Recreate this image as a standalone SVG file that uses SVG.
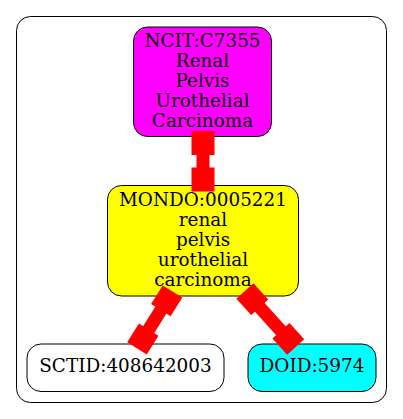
<svg xmlns="http://www.w3.org/2000/svg" width="403" height="419" viewBox="0 0 403 419">
<style>
.node rect{stroke:#000;stroke-width:1}
.node text{font-family:"DejaVu Serif",serif;font-size:18.4px;text-anchor:middle;fill:#000}
.edge rect{fill:#f00;stroke:none}
.edge line{stroke:#f00;stroke-width:13}
</style>
<rect x="0" y="0" width="403" height="419" fill="#fff"/>
<rect id="cluster" x="16.5" y="16.5" width="370" height="386" rx="14" fill="none" stroke="#000" stroke-width="1"/>
<g id="n_ncit" class="node">
<rect x="133.5" y="27" width="138" height="109.5" rx="14" fill="#ff00ff"/>
<text x="202.5" y="46.7">NCIT:C7355</text>
<text x="202.5" y="66.7">Renal</text>
<text x="202.5" y="86.7">Pelvis</text>
<text x="202.5" y="106.7">Urothelial</text>
<text x="202.5" y="126.7">Carcinoma</text>
</g>
<g id="n_mondo" class="node">
<rect x="107.5" y="185.5" width="191" height="110.5" rx="14" fill="#ffff00"/>
<text x="203" y="206">MONDO:0005221</text>
<text x="203" y="226">renal</text>
<text x="203" y="246">pelvis</text>
<text x="203" y="266">urothelial</text>
<text x="203" y="286">carcinoma</text>
</g>
<g id="n_sctid" class="node">
<rect x="27" y="344" width="197" height="47.5" rx="14" fill="#ffffff"/>
<text x="125.5" y="372.3">SCTID:408642003</text>
</g>
<g id="n_doid" class="node">
<rect x="248" y="344" width="128" height="47.5" rx="14" fill="#00ffff"/>
<text x="312" y="372.3">DOID:5974</text>
</g>
<g id="edges">
<g class="edge" transform="translate(203 143) rotate(0)">
<line x1="0" y1="0" x2="0" y2="36.5"/>
<rect x="-11.5" y="-12" width="23" height="24"/>
<rect x="-11.5" y="24.5" width="23" height="24"/>
</g>
<g class="edge" transform="translate(166.7 300.8) rotate(32)">
<line x1="0" y1="0" x2="0" y2="45"/>
<rect x="-11.5" y="-11" width="23" height="22"/>
<rect x="-11.5" y="34" width="23" height="22"/>
</g>
<g class="edge" transform="translate(252.3 299.2) rotate(-42.2)">
<line x1="0" y1="0" x2="0" y2="53.6"/>
<rect x="-11.5" y="-11" width="23" height="22"/>
<rect x="-11.5" y="42.6" width="23" height="22"/>
</g>
</g>
</svg>
